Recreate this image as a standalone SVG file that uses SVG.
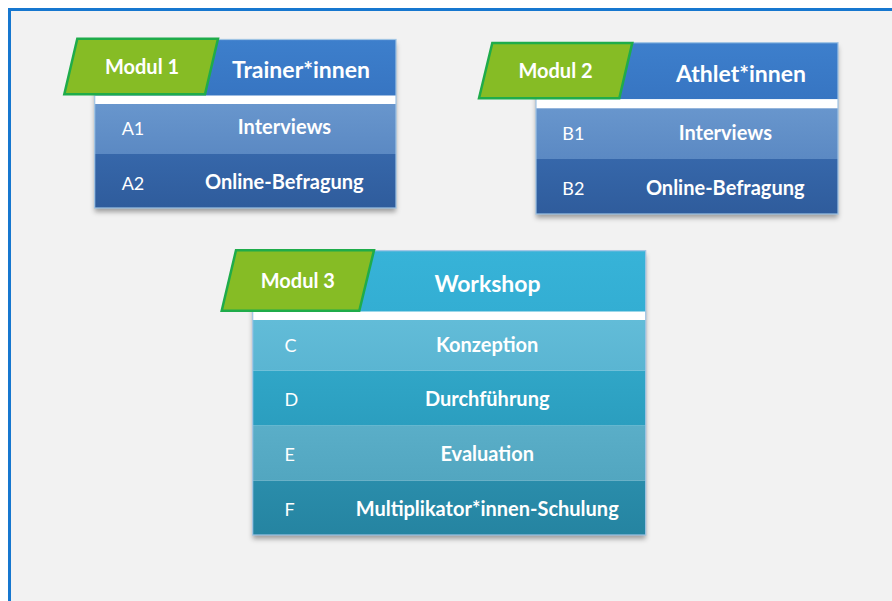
<svg xmlns="http://www.w3.org/2000/svg" width="892" height="601" viewBox="0 0 892 601">
<defs>
<filter id="sh" x="-10%" y="-10%" width="120%" height="130%">
<feDropShadow dx="0" dy="4" stdDeviation="2.5" flood-color="#000" flood-opacity="0.35"/>
</filter>
<linearGradient id="gA1" x1="0" y1="0" x2="0" y2="1"><stop offset="0" stop-color="#6896cd"/><stop offset="1" stop-color="#5b89c3"/></linearGradient>
<linearGradient id="gA2" x1="0" y1="0" x2="0" y2="1"><stop offset="0" stop-color="#3667aa"/><stop offset="1" stop-color="#2f5c9c"/></linearGradient>
<linearGradient id="gH1" x1="0" y1="0" x2="0" y2="1"><stop offset="0" stop-color="#3d7fcc"/><stop offset="1" stop-color="#3775c2"/></linearGradient>
<linearGradient id="gH3" x1="0" y1="0" x2="0" y2="1"><stop offset="0" stop-color="#37b3d8"/><stop offset="1" stop-color="#33aed3"/></linearGradient>
<linearGradient id="gC" x1="0" y1="0" x2="0" y2="1"><stop offset="0" stop-color="#62bcd8"/><stop offset="1" stop-color="#5ab5d2"/></linearGradient>
<linearGradient id="gD" x1="0" y1="0" x2="0" y2="1"><stop offset="0" stop-color="#30a6c7"/><stop offset="1" stop-color="#2b9ebf"/></linearGradient>
<linearGradient id="gE" x1="0" y1="0" x2="0" y2="1"><stop offset="0" stop-color="#5aaec8"/><stop offset="1" stop-color="#52a6c0"/></linearGradient>
<linearGradient id="gF" x1="0" y1="0" x2="0" y2="1"><stop offset="0" stop-color="#2a8dab"/><stop offset="1" stop-color="#2584a1"/></linearGradient>
</defs>
<style>
text{font-family:Lato,"Liberation Sans",sans-serif;fill:#ffffff}
.mod{font-weight:bold;font-size:20px;text-anchor:middle}
.title{font-weight:bold;font-size:23px;text-anchor:middle}
.row{font-weight:bold;font-size:20px;text-anchor:middle}
.code{font-size:18px}
.tab{fill:#86bc25;stroke:#1fac4a;stroke-width:2.5;stroke-linejoin:miter}
.frame{fill:none;stroke:#9fc4e4;stroke-width:1.2}
.stripe{fill:#ffffff}
</style>
<rect x="0" y="0" width="892" height="601" fill="#ffffff"/>
<rect x="9.5" y="9.5" width="900" height="620" fill="#f2f2f2" stroke="#1677cf" stroke-width="3"/>

<g id="modul1">
<g filter="url(#sh)">
<rect x="94.7" y="39.5" width="301.3" height="168.5" fill="#ffffff"/>
</g>
<rect x="94.7" y="39.5" width="301.3" height="56.2" fill="url(#gH1)"/>
<rect class="stripe" x="94.7" y="95.7" width="301.3" height="8.3"/>
<rect x="94.7" y="104" width="301.3" height="50" fill="url(#gA1)"/>
<rect x="94.7" y="154" width="301.3" height="54" fill="url(#gA2)"/>
<rect class="frame" x="94.7" y="39.5" width="301.3" height="168.5"/>
<polygon class="tab" points="77.3,38.8 218,38.8 205,94.3 64.3,94.3"/>
<text class="mod" x="142" y="74">Modul 1</text>
<text class="title" x="301" y="78">Trainer*innen</text>
<text class="code" x="121.7" y="134.5">A1</text>
<text class="row" x="284.5" y="134.3">Interviews</text>
<text class="code" x="121.7" y="189.5">A2</text>
<text class="row" x="284.3" y="189.3">Online-Befragung</text>
</g>

<g id="modul2">
<g filter="url(#sh)">
<rect x="536" y="42.7" width="302" height="171.3" fill="#ffffff"/>
</g>
<rect x="536" y="42.7" width="302" height="56.6" fill="url(#gH1)"/>
<rect class="stripe" x="536" y="99.3" width="302" height="9"/>
<rect x="536" y="108.3" width="302" height="50.7" fill="url(#gA1)"/>
<rect x="536" y="159" width="302" height="55" fill="url(#gA2)"/>
<rect class="frame" x="536" y="42.7" width="302" height="171.3"/>
<polygon class="tab" points="492.3,42.9 632.3,42.9 619.3,98.3 479,98.3"/>
<text class="mod" x="555.5" y="78.3">Modul 2</text>
<text class="title" x="741" y="82.3">Athlet*innen</text>
<text class="code" x="562.3" y="140">B1</text>
<text class="row" x="725.3" y="140">Interviews</text>
<text class="code" x="562.3" y="195">B2</text>
<text class="row" x="725.2" y="195">Online-Befragung</text>
</g>

<g id="modul3">
<g filter="url(#sh)">
<rect x="252.7" y="250.7" width="393" height="284.3" fill="#ffffff"/>
</g>
<rect x="252.7" y="250.7" width="393" height="61" fill="url(#gH3)"/>
<rect class="stripe" x="252.7" y="311.7" width="393" height="8.3"/>
<rect x="252.7" y="320" width="393" height="50.7" fill="url(#gC)"/>
<rect x="252.7" y="370.7" width="393" height="55" fill="url(#gD)"/>
<rect x="252.7" y="425.7" width="393" height="55" fill="url(#gE)"/>
<rect x="252.7" y="480.7" width="393" height="54.3" fill="url(#gF)"/>
<rect class="frame" x="252.7" y="250.7" width="393" height="284.3"/>
<polygon class="tab" points="236,250.3 374,250.3 359.3,310.7 221.7,310.7"/>
<text class="mod" x="297.8" y="287.7">Modul 3</text>
<text class="title" x="487.5" y="291.7">Workshop</text>
<text class="code" x="284.5" y="351.7">C</text>
<text class="row" x="487.2" y="351.7">Konzeption</text>
<text class="code" x="284.5" y="405.7">D</text>
<text class="row" x="487.2" y="405.7">Durchführung</text>
<text class="code" x="284.5" y="460.7">E</text>
<text class="row" x="487.2" y="460.7">Evaluation</text>
<text class="code" x="284.5" y="516">F</text>
<text class="row" x="487.2" y="516">Multiplikator*innen-Schulung</text>
</g>
<g id="connectors"/>
</svg>
